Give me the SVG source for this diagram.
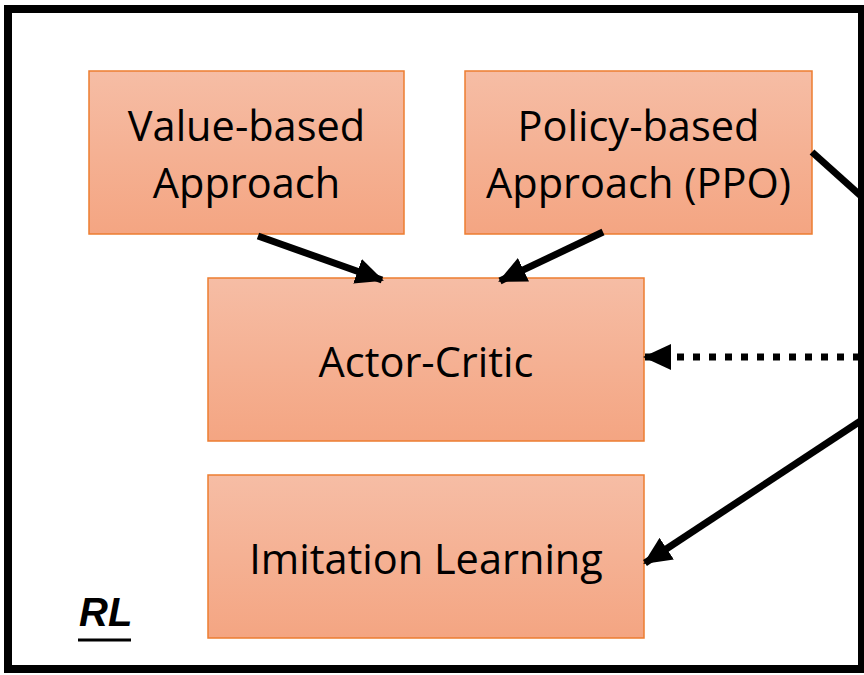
<svg xmlns="http://www.w3.org/2000/svg" width="864" height="675" viewBox="0 0 864 675">
<defs>
<linearGradient id="g" x1="0" y1="0" x2="0" y2="1">
<stop offset="0" stop-color="#F6BDA5"/>
<stop offset="1" stop-color="#F4A582"/>
</linearGradient>
<marker id="ah" markerUnits="userSpaceOnUse" viewBox="0 0 28 26" refX="26" refY="13" markerWidth="28" markerHeight="26" orient="auto">
<path d="M0,0 L28,13 L0,26 Z" fill="#000"/>
</marker>
<style>
.box{fill:url(#g);stroke:#ED7D31;stroke-width:1.5}
.t{font-family:"Open Sans","Liberation Sans",sans-serif;font-size:41.5px;fill:#000;text-anchor:middle}
.c{stroke:#000;stroke-width:7;fill:none}
</style>
</defs>
<rect x="0" y="0" width="864" height="675" fill="#fff"/>
<rect x="8" y="9" width="854" height="660" fill="#fff" stroke="#000" stroke-width="8"/>
<g id="value">
<rect class="box" x="89" y="71" width="315" height="163"/>
<text class="t" x="246.5" y="141">Value-based</text>
<text class="t" x="246.5" y="198">Approach</text>
</g>
<g id="policy">
<rect class="box" x="465" y="71" width="347" height="163"/>
<text class="t" x="638.5" y="141">Policy-based</text>
<text class="t" x="638.5" y="198">Approach (PPO)</text>
</g>
<g id="actor">
<rect class="box" x="208" y="278" width="436" height="163"/>
<text class="t" x="426" y="377">Actor-Critic</text>
</g>
<g id="imitation">
<rect class="box" x="208" y="475" width="436" height="163"/>
<text class="t" x="426" y="574">Imitation Learning</text>
</g>
<g id="label">
<text x="79" y="626" font-family="Liberation Sans, sans-serif" font-size="40" font-weight="bold" font-style="italic" fill="#000">RL</text>
<line x1="78" y1="640" x2="131" y2="640" stroke="#000" stroke-width="3"/>
</g>
<g id="connectors">
<line class="c" x1="258" y1="236" x2="382" y2="280" marker-end="url(#ah)"/>
<line class="c" x1="603" y1="232" x2="500" y2="281" marker-end="url(#ah)"/>
<line class="c" x1="812" y1="152" x2="862" y2="197"/>
<line class="c" x1="860" y1="357" x2="645" y2="357" stroke-dasharray="7 9" marker-end="url(#ah)"/>
<line class="c" x1="862" y1="420" x2="645" y2="563" marker-end="url(#ah)"/>
</g>
</svg>
